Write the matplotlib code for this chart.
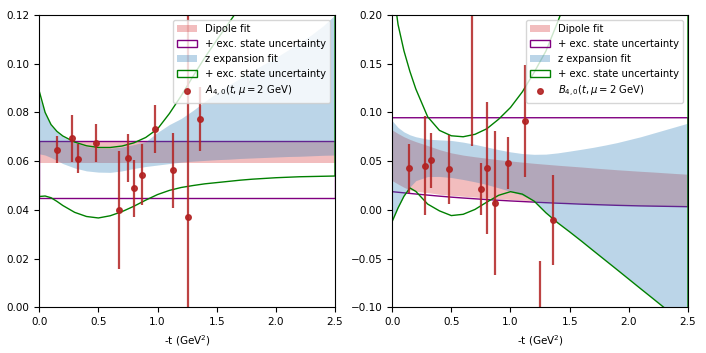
import numpy as np
import matplotlib
matplotlib.use('Agg')
import matplotlib.pyplot as plt

# --- momentum transfer grid used for all fit bands ---
tgrid = np.array([0.0, 0.05, 0.1, 0.15, 0.2, 0.3, 0.4, 0.5, 0.6, 0.7, 0.8, 0.9, 1.0,
                  1.1, 1.2, 1.3, 1.4, 1.5, 1.6, 1.7, 1.8, 1.9, 2.0, 2.1, 2.2, 2.3, 2.4, 2.5])

# --- A_{4,0} lattice data ---
tA    = [0.152, 0.28, 0.329, 0.484, 0.675, 0.754, 0.805, 0.869, 0.982, 1.128, 1.254, 1.361]
A     = [0.0647, 0.0693, 0.0610, 0.0676, 0.0399, 0.0612, 0.0488, 0.0545, 0.0732, 0.0562, 0.0372, 0.0773]
A_err = [0.0056, 0.0098, 0.0060, 0.0078, 0.0243, 0.0098, 0.0117, 0.0124, 0.0098, 0.0155, 0.0950, 0.0130]

# A: dipole fit band and dipole + excited state band (flat)
A_dip_lo, A_dip_hi = 0.0591, 0.0684
A_dipexc_lo, A_dipexc_hi = 0.0449, 0.0684

# A: z expansion fit band
A_z_lo = [0.0630, 0.0625, 0.0615, 0.0603, 0.0590, 0.0572, 0.0560, 0.0555, 0.0554, 0.0560, 0.0570, 0.0578, 0.0584,
          0.0590, 0.0596, 0.0600, 0.0603, 0.0606, 0.0608, 0.0611, 0.0613, 0.0615, 0.0617, 0.0619, 0.0620, 0.0622, 0.0624, 0.0625]
A_z_hi = [0.0864, 0.0795, 0.0745, 0.0719, 0.0700, 0.0675, 0.0660, 0.0653, 0.0653, 0.0658, 0.0668, 0.0680, 0.0718,
          0.0750, 0.0775, 0.0808, 0.0845, 0.0880, 0.0912, 0.0940, 0.0970, 0.0998, 0.1025, 0.1055, 0.1085, 0.1118, 0.1155, 0.1200]
# A: z expansion + excited state band
A_zexc_lo = [0.0455, 0.0457, 0.0450, 0.0435, 0.0418, 0.0390, 0.0373, 0.0367, 0.0376, 0.0393, 0.0415, 0.0440, 0.0463,
             0.0480, 0.0492, 0.0500, 0.0507, 0.0512, 0.0517, 0.0522, 0.0526, 0.0529, 0.0532, 0.0534, 0.0536, 0.0537, 0.0538, 0.0539]
A_zexc_hi = [0.0888, 0.0800, 0.0750, 0.0722, 0.0703, 0.0678, 0.0663, 0.0656, 0.0656, 0.0662, 0.0675, 0.0697, 0.0732,
             0.0795, 0.0868, 0.0948, 0.1025, 0.1096, 0.1165, 0.1235, 0.1310, 0.1390, 0.1470, 0.1560, 0.1650, 0.1750, 0.1850, 0.1960]

# --- B_{4,0} lattice data ---
tB    = [0.146, 0.281, 0.329, 0.484, 0.676, 0.752, 0.805, 0.870, 0.982, 1.126, 1.253, 1.363]
B     = [0.0426, 0.0453, 0.0508, 0.0416, 0.2100, 0.0217, 0.0433, 0.0071, 0.0484, 0.0911, -0.1400, -0.0102]
B_err = [0.0253, 0.0507, 0.0282, 0.0357, 0.1445, 0.0266, 0.0678, 0.0734, 0.0265, 0.0572, 0.0880, 0.0462]

# B: dipole fit band
B_dip_lo = [0.0300, 0.0265, 0.0232, 0.0205, 0.0190, 0.0178, 0.0160, 0.0150, 0.0140, 0.0131, 0.0122, 0.0114, 0.0107,
            0.0100, 0.0093, 0.0086, 0.0080, 0.0074, 0.0068, 0.0063, 0.0058, 0.0054, 0.0050, 0.0046, 0.0043, 0.0040, 0.0037, 0.0034]
B_dip_hi = [0.0820, 0.0783, 0.0750, 0.0723, 0.0700, 0.0660, 0.0618, 0.0585, 0.0562, 0.0545, 0.0530, 0.0515, 0.0502,
            0.0490, 0.0478, 0.0468, 0.0458, 0.0449, 0.0440, 0.0430, 0.0421, 0.0412, 0.0404, 0.0396, 0.0389, 0.0381, 0.0373, 0.0366]
# B: dipole + excited state band
B_dipexc_lo = [0.0187, 0.0181, 0.0175, 0.0169, 0.0163, 0.0152, 0.0141, 0.0131, 0.0122, 0.0114, 0.0106, 0.0099, 0.0092,
               0.0086, 0.0080, 0.0074, 0.0069, 0.0064, 0.0059, 0.0055, 0.0051, 0.0047, 0.0044, 0.0041, 0.0039, 0.0037, 0.0035, 0.0033]
B_dipexc_hi = 0.0945
# B: z expansion fit band
B_z_lo = [-0.0100, 0.0030, 0.0145, 0.0235, 0.0300, 0.0342, 0.0343, 0.0332, 0.0312, 0.0288, 0.0260, 0.0226, 0.0190,
          0.0150, 0.0095, -0.0025, -0.0128, -0.0220, -0.0315, -0.0413, -0.0510, -0.0607, -0.0705, -0.0803, -0.0900, -0.0998, -0.1095, -0.1195]
B_z_hi = [0.0915, 0.0845, 0.0800, 0.0770, 0.0750, 0.0725, 0.0718, 0.0712, 0.0695, 0.0672, 0.0645, 0.0618, 0.0595,
          0.0578, 0.0570, 0.0572, 0.0585, 0.0603, 0.0622, 0.0642, 0.0665, 0.0690, 0.0720, 0.0750, 0.0785, 0.0820, 0.0855, 0.0890]
# B: z expansion + excited state band
B_zexc_lo = [-0.0120, 0.0020, 0.0140, 0.0225, 0.0190, 0.0060, -0.0010, -0.0058, -0.0045, 0.0005, 0.0080, 0.0150, 0.0187,
             0.0162, 0.0090, -0.0030, -0.0133, -0.0225, -0.0320, -0.0418, -0.0515, -0.0612, -0.0710, -0.0808, -0.0905, -0.1003, -0.1100, -0.1200]
B_zexc_hi = [0.235, 0.190, 0.163, 0.142, 0.124, 0.0955, 0.0815, 0.0760, 0.0750, 0.0775, 0.0832, 0.0930, 0.1050,
             0.1210, 0.1410, 0.1630, 0.1930, 0.225, 0.260, 0.300, 0.340, 0.380, 0.430, 0.480, 0.530, 0.590, 0.650, 0.710]

plt.rcParams['font.size'] = 7.5

fig, (ax1, ax2) = plt.subplots(1, 2, figsize=(7.06, 3.53), dpi=100)
fig.subplots_adjust(left=0.0555, right=0.9745, bottom=0.129, top=0.958, wspace=0.193)


def draw_panel(ax, t, y, yerr, dip_lo, dip_hi, dipexc_lo, dipexc_hi, z_lo, z_hi, zexc_lo, zexc_hi, label):
    ax.fill_between(tgrid, dip_lo, dip_hi, color='tab:red', alpha=0.3, lw=0, label='Dipole fit')
    ax.fill_between(tgrid, dipexc_lo, dipexc_hi, facecolor='none', edgecolor='purple', lw=1,
                    label='+ exc. state uncertainty')
    ax.fill_between(tgrid, z_lo, z_hi, color='tab:blue', alpha=0.3, lw=0, label='z expansion fit')
    ax.fill_between(tgrid, zexc_lo, zexc_hi, facecolor='none', edgecolor='green', lw=1,
                    label='+ exc. state uncertainty')
    ax.errorbar(t, y, yerr=yerr, fmt='none', ecolor='firebrick', elinewidth=1.6, alpha=0.85)
    ax.plot(t, y, 'o', color='firebrick', ms=4, alpha=0.9, label=label)
    ax.set_xlim(0, 2.5)
    ax.set_xlabel('-t (GeV$^2$)')
    ax.legend(loc='upper right', fontsize=7.2)


draw_panel(ax1, tA, A, A_err, A_dip_lo, A_dip_hi, A_dipexc_lo, A_dipexc_hi,
           A_z_lo, A_z_hi, A_zexc_lo, A_zexc_hi, r'$A_{4,0}(t,\mu = 2$ GeV$)$')
ax1.set_ylim(0, 0.12)

draw_panel(ax2, tB, B, B_err, B_dip_lo, B_dip_hi, B_dipexc_lo, B_dipexc_hi,
           B_z_lo, B_z_hi, B_zexc_lo, B_zexc_hi, r'$B_{4,0}(t,\mu = 2$ GeV$)$')
ax2.set_ylim(-0.1, 0.2)

fig.savefig('out.png', dpi=100)
